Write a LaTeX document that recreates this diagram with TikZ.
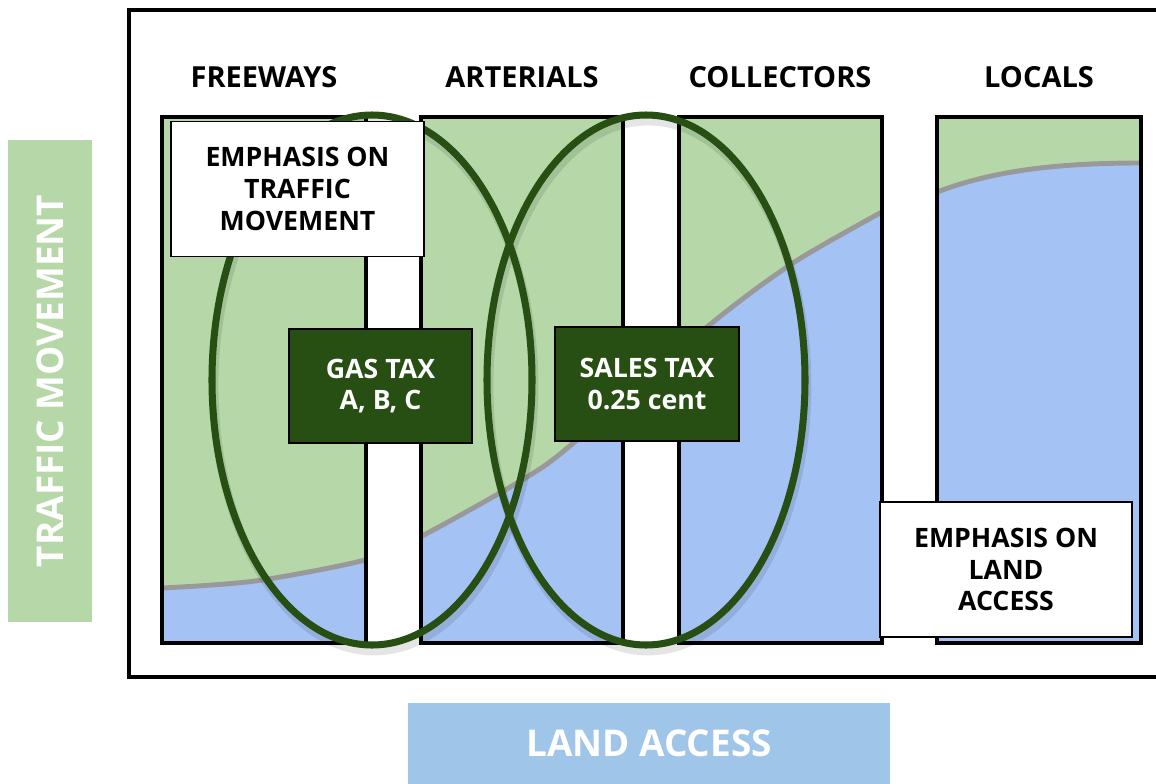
\documentclass[tikz,border=0pt]{standalone}
\usepackage{fontspec}
\setmainfont{Open Sans}
\usepackage{tikz}
\definecolor{movegreen}{HTML}{B6D7A8}
\definecolor{accessblue}{HTML}{A4C2F4}
\definecolor{barblue}{HTML}{9FC5E8}
\definecolor{taxgreen}{HTML}{274E13}
\definecolor{linegray}{HTML}{999999}
\tikzset{
  every node/.style={font=\bfseries},
}

\begin{document}
\begin{tikzpicture}[
    x=0.02cm, y=-0.02cm,
    panel/.style={line width=2pt},
    boundary/.style={line width=2.8pt,linegray},
    ring/.style={line width=4pt,taxgreen},
    ringshade/.style={line width=5pt,black,opacity=0.1},
    note/.style={draw,fill=white,line width=0.8pt,align=center,inner sep=0pt,
      minimum width=5.06cm,minimum height=2.7cm,font=\bfseries\fontsize{15.2}{18.1}\selectfont},
    tax/.style={draw,fill=taxgreen,text=white,line width=0.8pt,align=center,inner sep=0pt,
      minimum width=3.66cm,minimum height=2.28cm,font=\bfseries\fontsize{15.2}{18.1}\selectfont},
    head/.style={font=\bfseries\fontsize{16.5}{20}\selectfont},
    axisbar/.style={text=white,inner sep=0pt,minimum width=9.64cm}
    ]
    \useasboundingbox (0,0) rectangle (1156,784);
    \draw[panel] (129,10) rectangle (1180,677);
    \fill[movegreen] (162,117) rectangle (882,643);
    \fill[movegreen] (937,117) rectangle (1141,643);
    \fill[accessblue] plot[smooth] coordinates {(162,588) (255,581) (365,560) (420,537) (527,477) (577,440) (707,327) (793,263) (882,212)} -- (882,643) -- (162,643) -- cycle;
    \draw[boundary] plot[smooth] coordinates {(162,588) (255,581) (365,560) (420,537) (527,477) (577,440) (707,327) (793,263) (882,212)};
    \fill[accessblue] (937,192) .. controls (990,172) and (1050,163) .. (1141,163) -- (1141,643) -- (937,643) -- cycle;
    \draw[boundary] (937,192) .. controls (990,172) and (1050,163) .. (1141,163);
    \fill[white] (366,110) rectangle (421,650);
    \fill[white] (623,110) rectangle (679,650);
    \fill[white] (882,110) rectangle (937,650);
    \draw[panel] (162,117) rectangle (366,643);
    \draw[panel] (421,117) rectangle (623,643);
    \draw[panel] (679,117) rectangle (882,643);
    \draw[panel] (937,117) rectangle (1141,643);
    \draw[ringshade] (374,386) ellipse [x radius=160, y radius=265];
    \draw[ringshade] (648,386) ellipse [x radius=159, y radius=265];
    \draw[ring] (372,380) ellipse [x radius=160, y radius=265];
    \draw[ring] (646,380) ellipse [x radius=159, y radius=265];
    \node[note] (movenote) at (297.5,189) {EMPHASIS ON\\TRAFFIC\\MOVEMENT};
    \node[note,minimum width=5.04cm] (accessnote) at (1006,569.5) {EMPHASIS ON\\LAND\\ACCESS};
    \node[tax] (gastax) at (380.5,386) {GAS TAX\\A, B, C};
    \node[tax,minimum width=3.68cm] (salestax) at (647,384) {SALES TAX\\0.25 cent};
    \node[head] (freeways) at (264,77) {FREEWAYS};
    \node[head] (arterials) at (522,77) {ARTERIALS};
    \node[head] (collectors) at (780,77) {COLLECTORS};
    \node[head] (locals) at (1039,77) {LOCALS};
    \node[axisbar,fill=movegreen,rotate=90,minimum height=1.68cm,
      font=\bfseries\fontsize{21}{25}\selectfont] (movebar) at (50,381) {TRAFFIC MOVEMENT};
    \node[axisbar,fill=barblue,minimum height=1.62cm,
      font=\bfseries\fontsize{21}{25}\selectfont] (accessbar) at (649,743.5) {LAND ACCESS};
  \end{tikzpicture}
\end{document}
